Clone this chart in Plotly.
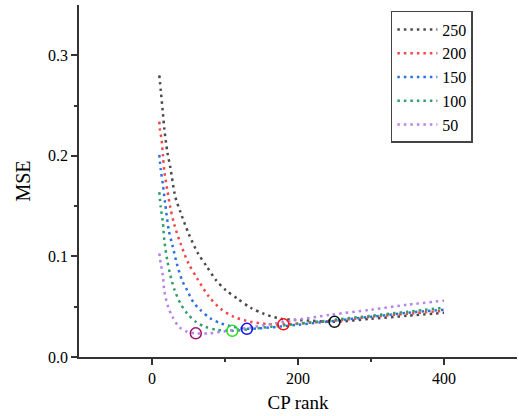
import plotly.graph_objects as go

# ---- data ----
x250 = [10, 12, 15, 17, 21, 25, 32, 39, 50, 63, 75, 87, 101, 117, 135, 153, 176, 195, 220, 250, 300, 350, 400]
y250 = [0.280, 0.265, 0.242, 0.226, 0.204, 0.189, 0.159, 0.144, 0.123, 0.103, 0.090, 0.077, 0.0665, 0.058, 0.049, 0.043, 0.038, 0.037, 0.036, 0.035, 0.038, 0.041, 0.044]

x200 = [10, 11, 13, 15, 17, 21, 25, 30, 39, 50, 62, 78, 94, 112, 135, 158, 180, 250, 300, 350, 400]
y200 = [0.234, 0.225, 0.217, 0.200, 0.184, 0.166, 0.149, 0.133, 0.113, 0.093, 0.078, 0.060, 0.048, 0.040, 0.035, 0.0328, 0.0325, 0.036, 0.040, 0.043, 0.046]

x150 = [10, 12, 15, 18, 23, 28, 34, 41, 48, 57, 66, 80, 94, 112, 130, 200, 250, 300, 350, 400]
y150 = [0.201, 0.186, 0.171, 0.153, 0.126, 0.111, 0.093, 0.0765, 0.0665, 0.054, 0.047, 0.0384, 0.0335, 0.030, 0.028, 0.032, 0.036, 0.040, 0.044, 0.047]

x100 = [10, 12, 15, 17, 21, 25, 31, 39, 48, 60, 73, 89, 110, 150, 200, 250, 300, 350, 400]
y100 = [0.164, 0.149, 0.133, 0.115, 0.096, 0.0815, 0.0665, 0.053, 0.0434, 0.035, 0.030, 0.027, 0.026, 0.029, 0.033, 0.037, 0.041, 0.045, 0.049]

x50 = [10, 12, 15, 17, 22, 28, 37, 48, 60, 78, 94, 140, 190, 245, 300, 350, 400]
y50 = [0.103, 0.093, 0.080, 0.065, 0.050, 0.040, 0.030, 0.0251, 0.0235, 0.0235, 0.025, 0.030, 0.036, 0.042, 0.047, 0.052, 0.056]

opt_x = [60, 110, 130, 180, 250]
opt_y = [0.0235, 0.026, 0.028, 0.0325, 0.035]

series_names = ["250", "200", "150", "100", "50"]

# ---- styles ----
line_colors = ["#4a4a4a", "#f04848", "#2a72e0", "#2f9e6a", "#b583ea"]
marker_colors = ["#a0106a", "#22e022", "#1010f0", "#ff1010", "#111111"]
FONT = "Liberation Serif"

fig = go.Figure()
for name, xs, ys, col in zip(series_names, [x250, x200, x150, x100, x50],
                             [y250, y200, y150, y100, y50], line_colors):
    fig.add_trace(go.Scatter(x=xs, y=ys, mode="lines", name=name,
                             line=dict(color=col, width=2.5, dash="2.5px,4px",
                                       shape="spline", smoothing=0.8)))

fig.add_trace(go.Scatter(x=opt_x, y=opt_y, mode="markers", showlegend=False,
                         marker=dict(symbol="circle-open", size=11,
                                     color=marker_colors,
                                     line=dict(width=1.5, color=marker_colors))))

fig.update_layout(
    width=519, height=416,
    margin=dict(l=79, r=2, t=5, b=59, autoexpand=False),
    plot_bgcolor="white", paper_bgcolor="white",
    font=dict(family=FONT, color="black", size=16),
    legend=dict(x=0.712, y=0.983, xanchor="left", yanchor="top",
                bordercolor="#444", borderwidth=1.5,
                font=dict(family=FONT, size=16, color="black"),
                tracegroupgap=0, itemwidth=40),
    xaxis=dict(range=[-100, 500], tickvals=[0, 200, 400], automargin=False,
               showgrid=False, zeroline=False,
               showline=True, linecolor="#333", linewidth=1.5,
               ticks="outside", ticklen=6, tickcolor="#333", tickwidth=1.5,
               minor=dict(tickvals=[100, 300], ticks="outside", ticklen=3,
                          tickcolor="#333", tickwidth=1.5),
               title=dict(text="CP rank", font=dict(size=19, family=FONT), standoff=10),
               tickfont=dict(size=16, family=FONT)),
    yaxis=dict(range=[0, 0.35], tickvals=[0, 0.1, 0.2, 0.3], tickformat=".1f", automargin=False,
               showgrid=False, zeroline=False,
               showline=True, linecolor="#333", linewidth=1.5,
               ticks="outside", ticklen=6, tickcolor="#333", tickwidth=1.5,
               minor=dict(tickvals=[0.05, 0.15, 0.25], ticks="outside", ticklen=3,
                          tickcolor="#333", tickwidth=1.5),
               title=dict(text="MSE", font=dict(size=20, family=FONT), standoff=12),
               tickfont=dict(size=16, family=FONT)),
)

fig.write_html("out.html", config={"displayModeBar": False},
               post_script="document.body.style.margin='0';document.body.style.overflow='hidden';")
